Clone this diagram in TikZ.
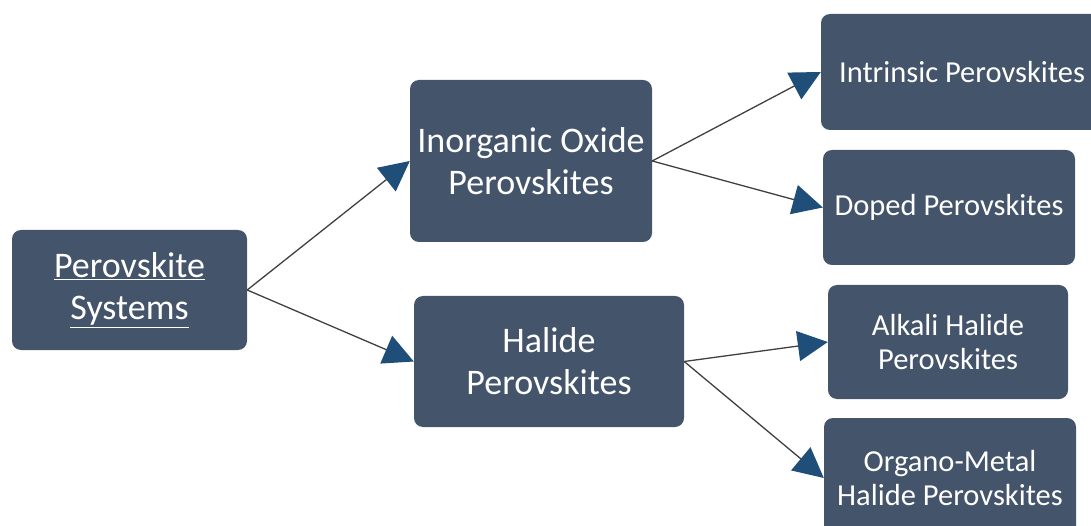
\documentclass[tikz,border=0pt]{standalone}
\usepackage{fontspec}
\setmainfont{Carlito}
\usetikzlibrary{arrows.meta}

\definecolor{boxslate}{HTML}{44546A}
\definecolor{headblue}{HTML}{1F4E79}
\definecolor{linegray}{HTML}{404040}

\begin{document}
\begin{tikzpicture}[x = 1pt, y = -1pt, > = {Triangle[length = 30pt, width = 30pt, color = headblue]},
	system/.style = {rectangle, rounded corners = 9pt, fill = boxslate, text = white, align = center, inner sep = 0pt},
	big/.style = {system, font = \fontsize{36}{42}\selectfont},
	small/.style = {system, font = \fontsize{30.5}{34}\selectfont},
	link/.style = {->, draw = linegray, line width = 1.3pt}]

	\useasboundingbox (0, 0) rectangle (1091, 526);

	% Root

		\node (system) [big, minimum width = 235pt, minimum height = 120pt] at (129.5, 290) {\underline{Perovskite}\\\underline{Systems}};

	% Families

		\node (oxide) [big, minimum width = 242pt, minimum height = 162pt] at (531, 161) {Inorganic Oxide\\Perovskites};
		\node (halide) [big, minimum width = 270pt, minimum height = 131pt] at (549, 361.5) {Halide\\Perovskites};

	% Subtypes

		\node (intrinsic) [small, minimum width = 282pt, minimum height = 116pt] at (962, 72) {Intrinsic Perovskites};
		\node (doped) [small, minimum width = 252pt, minimum height = 115pt] at (949, 207.5) {Doped Perovskites};
		\node (alkali) [small, minimum width = 240pt, minimum height = 114pt] at (948, 342) {Alkali Halide\\Perovskites};
		\node (organo) [small, minimum width = 252pt, minimum height = 120pt] at (950, 478) {Organo-Metal\\Halide Perovskites};

	% Connectors

		\begin{scope}[link]

			\draw (system.east) -- (oxide.west);
			\draw (system.east) -- (halide.west);
			\draw (oxide.east) -- (intrinsic.west);
			\draw (oxide.east) -- (doped.west);
			\draw (halide.east) -- (alkali.west);
			\draw (halide.east) -- (organo.west);

		\end{scope}

\end{tikzpicture}
\end{document}
